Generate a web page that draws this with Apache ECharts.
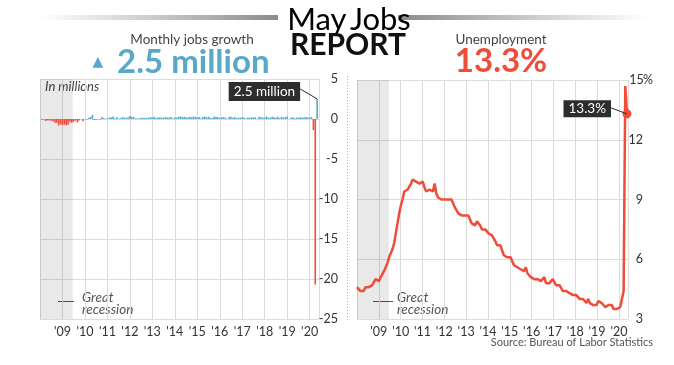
<!DOCTYPE html>
<html><head><meta charset="utf-8">
<script src="https://cdn.jsdelivr.net/npm/echarts/dist/echarts.min.js"></script>
<style>html,body{margin:0;padding:0;background:#fff}#c{width:674px;height:365px}</style>
</head><body><div id="c"></div>
<script>
// x tick labels (one per January, 2009..2020)
const xTickLabels = ["'09","'10","'11","'12","'13","'14","'15","'16","'17","'18","'19","'20"];
// Monthly jobs change, millions (Jan 2008 .. May 2020)
const jobs2008 = [0.01,-0.08,-0.05,-0.24,-0.18,-0.17,-0.21,-0.27,-0.46,-0.48,-0.80,-0.66];
const jobs2009 = [-0.78,-0.70,-0.80,-0.69,-0.35,-0.47,-0.34,-0.21,-0.44,-0.19,-0.01,-0.27];
const jobs2010 = [0.02,-0.05,0.16,0.25,0.52,-0.13,-0.07,-0.04,-0.06,0.26,0.13,0.07];
const jobs2011 = [0.07,0.17,0.21,0.30,0.10,0.22,0.07,0.11,0.22,0.20,0.13,0.21];
const jobs2012 = [0.36,0.26,0.24,0.08,0.09,0.07,0.16,0.15,0.16,0.14,0.15,0.23];
const jobs2013 = [0.19,0.28,0.14,0.19,0.22,0.18,0.15,0.25,0.19,0.21,0.26,0.05];
const jobs2014 = [0.19,0.17,0.27,0.33,0.23,0.29,0.23,0.19,0.27,0.22,0.31,0.26];
const jobs2015 = [0.21,0.26,0.08,0.25,0.33,0.20,0.28,0.16,0.12,0.32,0.25,0.24];
const jobs2016 = [0.13,0.24,0.22,0.17,0.04,0.27,0.28,0.15,0.25,0.12,0.16,0.16];
const jobs2017 = [0.23,0.20,0.07,0.19,0.15,0.21,0.19,0.22,0.02,0.27,0.22,0.16];
const jobs2018 = [0.18,0.32,0.14,0.17,0.27,0.21,0.17,0.28,0.11,0.28,0.18,0.23];
const jobs2019 = [0.31,0.01,0.15,0.22,0.08,0.18,0.17,0.22,0.19,0.18,0.26,0.18];
const jobs2020 = [0.21,0.25,-1.37,-20.69,2.51];
// Unemployment rate, % (Jan 2007 .. May 2020) as drawn in the reference
const unemp2007 = [4.6,4.5,4.4,4.5,4.4,4.6,4.7,4.6,4.7,4.7,4.7,5.0];
const unemp2008 = [5.0,4.9,5.1,5.0,5.4,5.6,5.8,6.1,6.1,6.5,6.8,7.3];
const unemp2009 = [7.8,8.3,8.7,9.0,9.4,9.5,9.5,9.6,9.8,10.0,9.9,9.9];
const unemp2010 = [9.8,9.8,9.9,9.9,9.6,9.4,9.4,9.5,9.5,9.4,9.8,9.3];
const unemp2011 = [9.1,9.0,9.0,9.1,9.0,9.1,9.0,9.0,9.0,8.8,8.6,8.5];
const unemp2012 = [8.3,8.3,8.2,8.2,8.2,8.2,8.2,8.1,7.8,7.8,7.7,7.9];
const unemp2013 = [8.0,7.7,7.5,7.6,7.5,7.5,7.3,7.2,7.2,7.2,6.9,6.7];
const unemp2014 = [6.6,6.7,6.7,6.2,6.3,6.1,6.2,6.1,5.9,5.7,5.8,5.6];
const unemp2015 = [5.7,5.5,5.4,5.4,5.6,5.3,5.2,5.1,5.0,5.0,5.1,5.0];
const unemp2016 = [4.9,4.9,5.0,5.1,4.8,4.9,4.8,4.9,5.0,4.9,4.7,4.7];
const unemp2017 = [4.7,4.6,4.4,4.4,4.4,4.3,4.3,4.4,4.2,4.1,4.2,4.1];
const unemp2018 = [4.0,4.1,4.0,4.0,3.8,4.0,3.8,3.8,3.7,3.8,3.7,3.9];
const unemp2019 = [4.0,3.8,3.8,3.6,3.6,3.7,3.7,3.7,3.5,3.6,3.5,3.5];
const unemp2020 = [3.6,3.5,4.4,14.7,13.3];
// Great recession end, in months after Jan 2008
const recessionEndMonth = 17.5;
const jobsCallout = '2.5 million';
const unempCallout = '13.3%';

const BLUE = '#5aa8c8', RED = '#f04d39', GRID = '#dcdcdc', DARK = '#2b2d2e';
const FONT = 'Lato, "Noto Sans", sans-serif';

const jobs = [].concat(jobs2008,jobs2009,jobs2010,jobs2011,jobs2012,jobs2013,jobs2014,jobs2015,jobs2016,jobs2017,jobs2018,jobs2019,jobs2020);
const unemp = [].concat(unemp2007,unemp2008,unemp2009,unemp2010,unemp2011,unemp2012,unemp2013,unemp2014,unemp2015,unemp2016,unemp2017,unemp2018,unemp2019,unemp2020);
const lastJob = jobs.length - 1;
const posData = [], negData = [];
jobs.forEach((v, i) => { (v >= 0 ? posData : negData).push([i, v]); });
const unempLine = unemp.map((v, i) => [i, v]);
const uLast = unempLine[unempLine.length - 1];

const xLabelFmt = v => (v % 12 === 0 && v > 0) ? xTickLabels[v / 12 - 1] : '';
function xAxisBase(gridIndex) {
  return {
    type: 'value', gridIndex, min: 0, max: 149, interval: 12,
    axisLine: { show: false }, axisTick: { show: false },
    splitLine: { show: true, lineStyle: { color: GRID, width: 1 } },
    axisLabel: { formatter: xLabelFmt, color: '#333', fontFamily: FONT, fontSize: 12.5, margin: 6,
                 showMinLabel: true, showMaxLabel: true, hideOverlap: false }
  };
}

const chart = echarts.init(document.getElementById('c'), null, { renderer: 'canvas' });
const staticGraphics = [
    { type: 'rect', shape: { x: 40, y: 15, width: 238, height: 5 }, silent: true,
      style: { fill: new echarts.graphic.LinearGradient(0, 0, 1, 0, [{ offset: 0, color: 'rgba(150,150,150,0)' }, { offset: 1, color: '#8a8a8a' }]) } },
    { type: 'rect', shape: { x: 398, y: 15, width: 250, height: 5 }, silent: true,
      style: { fill: new echarts.graphic.LinearGradient(0, 0, 1, 0, [{ offset: 0, color: '#8a8a8a' }, { offset: 1, color: 'rgba(150,150,150,0)' }]) } },
    { type: 'text', x: 349, y: 20, silent: true,
      style: { text: '{a|May} {b|Jobs}', align: 'center', verticalAlign: 'middle',
        rich: { a: { fontFamily: FONT, fontSize: 31, color: '#111' }, b: { fontFamily: FONT, fontSize: 31, color: RED } } } },
    { type: 'text', x: 348, y: 45, silent: true,
      style: { text: 'REPORT', align: 'center', verticalAlign: 'middle', fontFamily: FONT, fontWeight: 'bold', fontSize: 30, fill: '#111' } },
    { type: 'text', x: 192, y: 40, silent: true,
      style: { text: 'Monthly jobs growth', align: 'center', verticalAlign: 'middle', fontFamily: FONT, fontSize: 13.5, fill: '#444' } },
    { type: 'text', x: 98, y: 62, silent: true,
      style: { text: '▲', align: 'center', verticalAlign: 'middle', fontFamily: '"DejaVu Sans", sans-serif', fontSize: 14, fill: BLUE } },
    { type: 'text', x: 117, y: 62, silent: true,
      style: { text: '2.5 million', align: 'left', verticalAlign: 'middle', fontFamily: FONT, fontWeight: 'bold', fontSize: 33, fill: BLUE } },
    { type: 'text', x: 501, y: 40, silent: true,
      style: { text: 'Unemployment', align: 'center', verticalAlign: 'middle', fontFamily: FONT, fontSize: 13.5, fill: '#444' } },
    { type: 'text', x: 501, y: 61, silent: true,
      style: { text: '13.3%', align: 'center', verticalAlign: 'middle', fontFamily: FONT, fontWeight: 'bold', fontSize: 33, fill: RED } },
    { type: 'text', x: 45, y: 87, silent: true,
      style: { text: 'In millions', align: 'left', verticalAlign: 'middle', fontFamily: FONT, fontStyle: 'italic', fontSize: 13, fill: '#444' } },
    { type: 'line', shape: { x1: 58, y1: 301.5, x2: 74, y2: 301.5 }, silent: true, style: { stroke: '#555', lineWidth: 1 } },
    { type: 'text', x: 82, y: 304, silent: true,
      style: { text: 'Great\nrecession', align: 'left', verticalAlign: 'middle', fontFamily: FONT, fontStyle: 'italic', fontSize: 13.5, lineHeight: 12, fill: '#555' } },
    { type: 'line', shape: { x1: 373, y1: 301.5, x2: 393, y2: 301.5 }, silent: true, style: { stroke: '#555', lineWidth: 1 } },
    { type: 'text', x: 397, y: 304, silent: true,
      style: { text: 'Great\nrecession', align: 'left', verticalAlign: 'middle', fontFamily: FONT, fontStyle: 'italic', fontSize: 13.5, lineHeight: 12, fill: '#555' } },
    { type: 'line', shape: { x1: 347.5, y1: 76, x2: 347.5, y2: 322 }, silent: true, style: { stroke: '#b5b5b5', lineWidth: 1, lineDash: [1, 2] } },
    { type: 'text', x: 653, y: 342, silent: true,
      style: { text: 'Source: Bureau of Labor Statistics', align: 'right', verticalAlign: 'middle', fontFamily: FONT, fontSize: 11, fill: '#555' } }
];
chart.setOption({
  animation: false,
  backgroundColor: '#fff',
  grid: [
    { left: 40, right: 355, top: 79, bottom: 46, containLabel: false },
    { left: 357, right: 46, top: 80, bottom: 46, containLabel: false }
  ],
  xAxis: [
    xAxisBase(0),
    xAxisBase(1),
    { type: 'value', gridIndex: 1, min: 0, max: 160.6, show: false, splitLine: { show: false } }
  ],
  yAxis: [
    { type: 'value', gridIndex: 0, position: 'right', min: -25, max: 5, interval: 5,
      axisLine: { show: false }, axisTick: { show: false },
      splitLine: { show: true, lineStyle: { color: GRID } },
      axisLabel: { color: '#333', fontFamily: FONT, fontSize: 12.5, align: 'right', margin: 19 } },
    { type: 'value', gridIndex: 1, position: 'right', min: 3, max: 15, interval: 3,
      axisLine: { show: false }, axisTick: { show: false },
      splitLine: { show: true, lineStyle: { color: GRID } },
      axisLabel: { color: '#333', fontFamily: FONT, fontSize: 12.5, align: 'left', margin: 2,
        formatter: v => '{n|' + v + '}' + (v === 15 ? '%' : ''),
        rich: { n: { width: 13, align: 'right', color: '#333', fontFamily: FONT, fontSize: 12.5 } } } }
  ],
  series: [
    { type: 'bar', name: 'loss', xAxisIndex: 0, yAxisIndex: 0, data: negData, barWidth: 1.6, barGap: '-100%',
      itemStyle: { color: RED }, silent: true,
      markArea: { silent: true, itemStyle: { color: 'rgba(0,0,0,0.085)' },
                  data: [[{ xAxis: 0 }, { xAxis: recessionEndMonth }]] } },
    { type: 'bar', name: 'gain', xAxisIndex: 0, yAxisIndex: 0, data: posData, barWidth: 1.6, barGap: '-100%',
      itemStyle: { color: BLUE }, silent: true },
    { type: 'line', name: 'band', xAxisIndex: 1, yAxisIndex: 1, data: [[0, 3]], symbol: 'none',
      lineStyle: { opacity: 0 }, silent: true,
      markArea: { silent: true, itemStyle: { color: 'rgba(0,0,0,0.085)' },
                  data: [[{ xAxis: 0 }, { xAxis: recessionEndMonth }]] } },
    { type: 'line', name: 'unemployment', xAxisIndex: 2, yAxisIndex: 1, data: unempLine, symbol: 'none',
      lineStyle: { color: RED, width: 2.5 }, silent: true },
    { type: 'scatter', name: 'latest', xAxisIndex: 2, yAxisIndex: 1, symbolSize: 9, silent: true,
      itemStyle: { color: RED, opacity: 1 }, data: [uLast] }
  ],
  graphic: staticGraphics
});

// Callouts anchored to data points through the chart's own scales
const pJ = chart.convertToPixel({ xAxisIndex: 0, yAxisIndex: 0 }, [lastJob, jobs[lastJob]]);
const pU = chart.convertToPixel({ xAxisIndex: 2, yAxisIndex: 1 }, uLast);
const callouts = [
  { type: 'line', silent: true, z: 10, shape: { x1: pJ[0] - 17, y1: pJ[1] - 10, x2: pJ[0], y2: pJ[1] },
    style: { stroke: DARK, lineWidth: 1 } },
  { type: 'text', silent: true, z: 11, x: pJ[0] - 17, y: pJ[1] - 7.5,
    style: { text: jobsCallout, align: 'right', verticalAlign: 'middle', fontFamily: FONT, fontSize: 13.5,
             fill: '#fff', backgroundColor: DARK, padding: [3, 5, 2, 5] } },
  { type: 'line', silent: true, z: 10, shape: { x1: pU[0] - 16, y1: pU[1] - 6, x2: pU[0], y2: pU[1] },
    style: { stroke: DARK, lineWidth: 1 } },
  { type: 'text', silent: true, z: 11, x: pU[0] - 16, y: pU[1] - 5,
    style: { text: unempCallout, align: 'right', verticalAlign: 'middle', fontFamily: FONT, fontSize: 13.5,
             fill: '#fff', backgroundColor: DARK, padding: [2, 5, 1, 5] } }
];
chart.setOption({ graphic: staticGraphics.concat(callouts) });
</script></body></html>
